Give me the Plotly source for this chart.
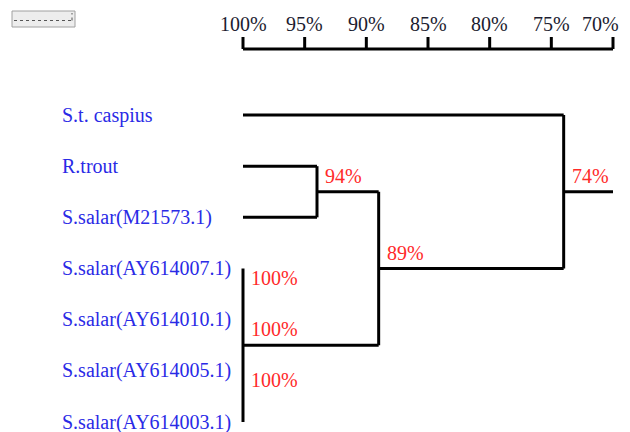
import plotly.graph_objects as go

# ---- data ----
leaves = ["S.t. caspius", "R.trout", "S.salar(M21573.1)",
          "S.salar(AY614007.1)", "S.salar(AY614010.1)",
          "S.salar(AY614005.1)", "S.salar(AY614003.1)"]
# merges: (child a, child b, similarity %) ; children are leaf idx or "n<k>"
merges = [
    (1, 2, 94),
    (3, 4, 100),
    (4, 5, 100),
    (5, 6, 100),
    ("n0", "grp", 89),
    (0, "n4", 74),
]
tick_vals = [100, 95, 90, 85, 80, 75, 70]
tick_labels = ["100%", "95%", "90%", "85%", "80%", "75%", "70%"]
root_end = 70

# ---- layout helpers (pixel mapping; page has 8px body margin) ----
OFF = 8
W, H = 630, 432
px_per_unit = 370 / 30.0
x0_px = 243 - OFF
x_range = [100 + x0_px / px_per_unit, 100 - (W - x0_px) / px_per_unit]
row0_px, row_px = 115 - OFF, 51.17
y_range = [(H - row0_px) / row_px, -row0_px / row_px]
def py(p):
    return (p - OFF - row0_px) / row_px

BLUE = "#2a2ae6"
RED = "#ff2a2a"
LW = 3
serif = "Liberation Serif, Times New Roman, serif"
FS = 20

fig = go.Figure()
xs, ys = [], []
def seg(x1, y1, x2, y2):
    xs.extend([x1, x2, None]); ys.extend([y1, y2, None])

pos = {i: (100, float(i)) for i in range(len(leaves))}
annotations = []
for i, name in enumerate(leaves):
    annotations.append(dict(x=x_range[0], y=i, xref="x", yref="y", text=name,
                            showarrow=False, xanchor="left", yanchor="middle",
                            xshift=60 - OFF, font=dict(family=serif, size=FS, color=BLUE)))

node_labels = []
# 94 node
a, b, s = merges[0]
ya, yb = pos[a][1], pos[b][1]
seg(100, ya, s, ya); seg(100, yb, s, yb); seg(s, ya, s, yb)
pos["n0"] = (s, (ya + yb) / 2)
node_labels.append((s, (ya + yb) / 2, s))
# 100% group: single vertical line at x=100
grp_rows = [3, 4, 5, 6]
seg(100, grp_rows[0], 100, grp_rows[-1])
for a, b, s in merges[1:4]:
    node_labels.append((s, (a + b) / 2, s))
pos["grp"] = (100, (grp_rows[0] + grp_rows[-1]) / 2)
# 89 node
a, b, s = merges[4]
(xa, ya), (xb, yb) = pos[a], pos[b]
seg(xa, ya, s, ya); seg(xb, yb, s, yb); seg(s, ya, s, yb)
pos["n4"] = (s, (ya + yb) / 2)
node_labels.append((s, (ya + yb) / 2, s))
# 74 node
a, b, s = merges[5]
(xa, ya), (xb, yb) = pos[a], pos[b]
seg(xa, ya, s, ya); seg(xb, yb, s, yb); seg(s, ya, s, yb)
ym = (ya + yb) / 2
seg(s, ym, root_end, ym)
node_labels.append((s, ym, s))

fig.add_trace(go.Scatter(x=xs, y=ys, mode="lines", line=dict(color="black", width=LW),
                         hoverinfo="skip", showlegend=False))

for x, y, s in node_labels:
    annotations.append(dict(x=x, y=y, xref="x", yref="y", text=f"{s}%", showarrow=False,
                            xanchor="left", yanchor="middle", xshift=6, yshift=16,
                            font=dict(family=serif, size=FS, color=RED)))

# top scale axis
axis_y = py(49)
tick_top = py(37)
ax_x, ax_y = [tick_vals[0], tick_vals[-1], None], [axis_y, axis_y, None]
for t in tick_vals:
    ax_x += [t, t, None]; ax_y += [axis_y, tick_top, None]
fig.add_trace(go.Scatter(x=ax_x, y=ax_y, mode="lines", line=dict(color="black", width=LW),
                         hoverinfo="skip", showlegend=False))
for k, (t, lab) in enumerate(zip(tick_vals, tick_labels)):
    last = k == len(tick_vals) - 1
    annotations.append(dict(x=t, y=py(24), xref="x", yref="y", text=lab, showarrow=False,
                            xanchor="right" if last else "center", yanchor="middle",
                            xshift=8 if last else 0,
                            font=dict(family=serif, size=FS, color="#1c1c30")))

# small widget at top-left
def pxx(p): return (p - OFF) / W
def pxy(p): return 1 - (p - OFF) / H
shapes = [
    dict(type="rect", xref="paper", yref="paper", x0=pxx(12), x1=pxx(75),
         y0=pxy(27), y1=pxy(11), fillcolor="#ededed", line=dict(color="#a0a0a0", width=1)),
    dict(type="line", xref="paper", yref="paper", x0=pxx(14), x1=pxx(72),
         y0=pxy(20.5), y1=pxy(20.5), line=dict(color="#555", width=1, dash="dot")),
    dict(type="line", xref="paper", yref="paper", x0=pxx(72), x1=pxx(72),
         y0=pxy(20.5), y1=pxy(13), line=dict(color="#555", width=1, dash="dot")),
]

fig.update_layout(
    width=W, height=H, margin=dict(l=0, r=0, t=0, b=0),
    paper_bgcolor="white", plot_bgcolor="white",
    xaxis=dict(range=x_range, visible=False, fixedrange=True),
    yaxis=dict(range=y_range, visible=False, fixedrange=True),
    annotations=annotations, shapes=shapes, showlegend=False,
)
fig.write_html("out.html")
